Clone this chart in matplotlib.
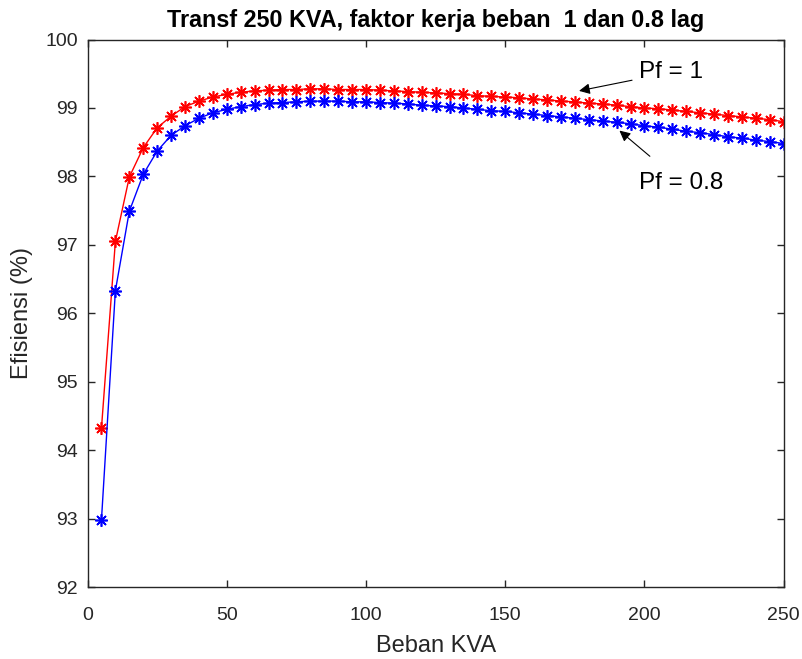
import numpy as np
import matplotlib
matplotlib.use("Agg")
import matplotlib.pyplot as plt

plt.rcParams['font.family'] = ['Liberation Sans', 'DejaVu Sans']

# beban (KVA)
beban = list(range(5, 255, 5))

# efisiensi pf = 1
eff_pf1 = [94.32, 97.05, 97.99, 98.42, 98.71, 98.88, 99.02, 99.10, 99.16, 99.20,
           99.23, 99.25, 99.26, 99.27, 99.27, 99.28, 99.28, 99.27, 99.27, 99.27,
           99.26, 99.25, 99.24, 99.23, 99.22, 99.21, 99.20, 99.18, 99.17, 99.16,
           99.15, 99.13, 99.12, 99.10, 99.09, 99.07, 99.06, 99.04, 99.02, 99.00,
           98.99, 98.97, 98.95, 98.93, 98.91, 98.89, 98.87, 98.85, 98.83, 98.80]

# efisiensi pf = 0.8 lag
eff_pf08 = [92.98, 96.33, 97.49, 98.03, 98.37, 98.60, 98.74, 98.85, 98.93, 98.98,
            99.02, 99.05, 99.07, 99.08, 99.09, 99.10, 99.10, 99.10, 99.09, 99.09,
            99.08, 99.07, 99.06, 99.04, 99.03, 99.02, 99.00, 98.98, 98.96, 98.95,
            98.93, 98.91, 98.89, 98.87, 98.85, 98.83, 98.81, 98.79, 98.77, 98.74,
            98.72, 98.69, 98.66, 98.64, 98.61, 98.58, 98.56, 98.53, 98.51, 98.48]

gray = '#262626'
asterisk = (8, 2, 0)  # MATLAB-like '*' (plus + cross)

fig = plt.figure(figsize=(8.03, 6.59), dpi=100)
ax = fig.add_axes([0.109, 0.109, 0.867, 0.831])

ax.plot(beban, eff_pf1, color='red', marker=asterisk, markersize=9,
        markeredgewidth=1.2, linewidth=1)
ax.plot(beban, eff_pf08, color='blue', marker=asterisk, markersize=9,
        markeredgewidth=1.2, linewidth=1)

ax.set_xlim(0, 250)
ax.set_ylim(92, 100)
ax.set_xticks([0, 50, 100, 150, 200, 250])
ax.set_yticks(np.arange(92, 101, 1))

ax.tick_params(direction='in', top=True, right=True, length=5, width=1,
               labelsize=14, colors=gray)
ax.tick_params(axis='x', pad=14)
ax.tick_params(axis='y', pad=7)
for s in ax.spines.values():
    s.set_color(gray)
    s.set_linewidth(1)

ax.set_title('Transf 250 KVA, faktor kerja beban  1 dan 0.8 lag',
             fontsize=16.8, fontweight='bold', pad=9)
ax.set_xlabel('Beban KVA', fontsize=17, color=gray, labelpad=8)
ax.set_ylabel('Efisiensi (%)', fontsize=17, color=gray, labelpad=9)

ax.annotate('Pf = 1', xy=(176.5, 99.25), xytext=(198, 99.52),
            fontsize=17.5, color='black', va='center', ha='left',
            arrowprops=dict(arrowstyle='-|>', color='black', lw=0.8,
                            mutation_scale=16, shrinkA=3, shrinkB=0))
ax.annotate('Pf = 0.8', xy=(191, 98.67), xytext=(198, 97.91),
            fontsize=17.5, color='black', va='center', ha='left',
            arrowprops=dict(arrowstyle='-|>', color='black', lw=0.8,
                            mutation_scale=16, shrinkA=14, shrinkB=0))

fig.savefig('out.png', dpi=100)
